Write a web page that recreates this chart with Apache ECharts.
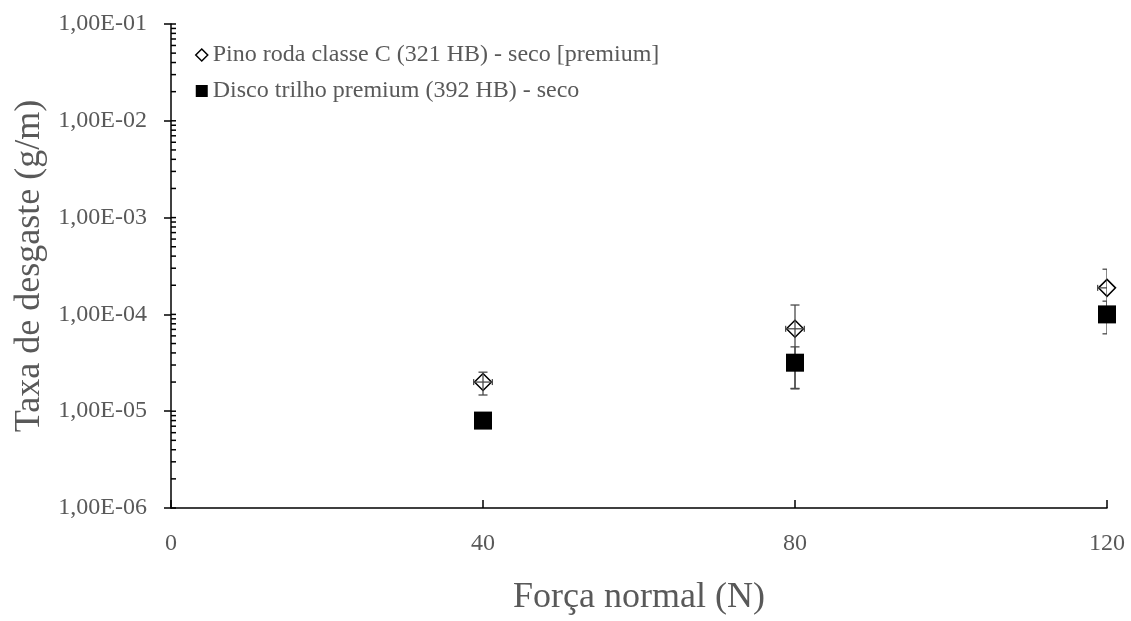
<!DOCTYPE html>
<html>
<head>
<meta charset="utf-8">
<script src="https://cdn.jsdelivr.net/npm/echarts@6/dist/echarts.min.js"></script>
<style>
  html, body { margin: 0; padding: 0; background: #fff; }
  #chart { width: 1131px; height: 621px; }
</style>
</head>
<body>
<div id="chart"></div>
<script>
// Wear rate vs. normal load, pin (wheel steel) and disc (rail steel), dry contact
const forces = [40, 80, 120];
const forceTicks = [0, 40, 80, 120];

const pinoName = 'Pino roda classe C (321 HB) - seco [premium]';
const pinoRate = [2.0e-5, 7.1e-5, 1.88e-4];
const pinoErr = [0.53e-5, 5.4e-5, 1.05e-4];
const pinoForceErr = [1.2, 1.2, 1.2];

const discoName = 'Disco trilho premium (392 HB) - seco';
const discoRate = [8.0e-6, 3.17e-5, 1.0e-4];
const discoErr = [0.5e-6, 1.45e-5, 0.37e-4];
const discoForceErr = [0, 0, 0];

const yTickLabels = ['1,00E-06', '1,00E-05', '1,00E-04', '1,00E-03', '1,00E-02', '1,00E-01'];
const yMinExp = -6;
const yMaxExp = -1;
const minorMultipliers = [1, 2, 3, 4, 5, 6, 7, 8, 9];

const FONT = '"Liberation Serif", "Times New Roman", serif';
const TEXT_GRAY = '#595959';

// points for the inner tick marks of the log axis (decade plus 2..9 subdivisions)
const logTickValues = [];
for (let e = yMinExp; e < yMaxExp; e++) {
  minorMultipliers.forEach(m => logTickValues.push([0, m * Math.pow(10, e)]));
}
logTickValues.push([0, Math.pow(10, yMaxExp)]);

function errorRows(xs, ys, es, xes) {
  return xs.map((x, i) => [x, ys[i], es[i], xes[i]]);
}

function renderErrorBar(params, api) {
  const x = api.value(0), y = api.value(1), e = api.value(2), xe = api.value(3);
  const top = api.coord([x, y + e]);
  const bot = api.coord([x, y - e]);
  const cap = 4.5;
  const style = { stroke: '#4a4a4a', lineWidth: 1.3, fill: null };
  const children = [
    { type: 'line', shape: { x1: top[0], y1: top[1], x2: bot[0], y2: bot[1] }, style },
    { type: 'line', shape: { x1: top[0] - cap, y1: top[1], x2: top[0] + cap, y2: top[1] }, style },
    { type: 'line', shape: { x1: bot[0] - cap, y1: bot[1], x2: bot[0] + cap, y2: bot[1] }, style }
  ];
  if (xe > 0) {
    const l = api.coord([x - xe, y]);
    const r = api.coord([x + xe, y]);
    children.push(
      { type: 'line', shape: { x1: l[0], y1: l[1], x2: r[0], y2: r[1] }, style },
      { type: 'line', shape: { x1: l[0], y1: l[1] - 3, x2: l[0], y2: l[1] + 3 }, style },
      { type: 'line', shape: { x1: r[0], y1: r[1] - 3, x2: r[0], y2: r[1] + 3 }, style }
    );
  }
  return { type: 'group', children };
}

function renderLogTick(params, api) {
  const p = api.coord([api.value(0), api.value(1)]);
  return {
    type: 'line',
    shape: { x1: p[0], y1: p[1], x2: p[0] + 5, y2: p[1] },
    style: { stroke: '#000', lineWidth: 1.5 }
  };
}

const chart = echarts.init(document.getElementById('chart'), null, { renderer: 'canvas' });

chart.setOption({
  backgroundColor: '#fff',
  animation: false,
  grid: { left: 171, width: 936, top: 24, height: 492, containLabel: false },
  legend: {
    orient: 'vertical',
    left: 190,
    top: 38,
    itemGap: 12,
    itemWidth: 12,
    itemHeight: 12,
    textStyle: { fontFamily: FONT, fontSize: 24, color: TEXT_GRAY },
    data: [
      { name: pinoName, icon: 'diamond', itemStyle: { color: '#fff', borderColor: '#000', borderWidth: 1.5 } },
      { name: discoName, icon: 'rect', itemStyle: { color: '#000', borderWidth: 0 } }
    ]
  },
  xAxis: {
    type: 'value',
    min: forceTicks[0],
    max: forceTicks[forceTicks.length - 1],
    interval: 40,
    name: 'Força normal (N)',
    nameLocation: 'middle',
    nameGap: 72,
    nameTextStyle: { fontFamily: FONT, fontSize: 36, color: TEXT_GRAY },
    axisLine: { show: true, onZero: false, lineStyle: { color: '#000', width: 1.5 } },
    axisTick: { show: true, inside: true, length: 8, lineStyle: { color: '#000', width: 1.5 } },
    axisLabel: { margin: 24, fontFamily: FONT, fontSize: 24, color: TEXT_GRAY },
    splitLine: { show: false }
  },
  yAxis: {
    type: 'log',
    logBase: 10,
    min: Math.pow(10, yMinExp),
    max: Math.pow(10, yMaxExp),
    interval: 1,
    name: 'Taxa de desgaste (g/m)',
    nameLocation: 'middle',
    nameGap: 118,
    nameTextStyle: { fontFamily: FONT, fontSize: 36, color: TEXT_GRAY },
    axisLine: { show: true, onZero: false, lineStyle: { color: '#000', width: 1.5 } },
    axisTick: { show: true, inside: false, length: 7, lineStyle: { color: '#000', width: 1.5 } },
    axisLabel: {
      margin: 24,
      fontFamily: FONT,
      fontSize: 24,
      color: TEXT_GRAY,
      formatter: v => yTickLabels[Math.round(Math.log10(v)) - yMinExp] || ''
    },
    splitLine: { show: false }
  },
  series: [
    {
      name: 'logTicks',
      type: 'custom',
      renderItem: renderLogTick,
      data: logTickValues,
      clip: false,
      silent: true,
      z: 1
    },
    {
      name: pinoName,
      type: 'scatter',
      symbol: 'diamond',
      symbolSize: 17,
      itemStyle: { color: '#fff', borderColor: '#000', borderWidth: 1.5, opacity: 1 },
      data: forces.map((x, i) => [x, pinoRate[i]]),
      z: 2
    },
    {
      name: 'pinoErr',
      type: 'custom',
      renderItem: renderErrorBar,
      data: errorRows(forces, pinoRate, pinoErr, pinoForceErr),
      clip: true,
      silent: true,
      z: 3
    },
    {
      name: 'discoErr',
      type: 'custom',
      renderItem: renderErrorBar,
      data: errorRows(forces, discoRate, discoErr, discoForceErr),
      clip: true,
      silent: true,
      z: 3
    },
    {
      name: discoName,
      type: 'scatter',
      symbol: 'rect',
      symbolSize: 18,
      itemStyle: { color: '#000', opacity: 1 },
      data: forces.map((x, i) => [x, discoRate[i]]),
      z: 4
    }
  ]
});
</script>
</body>
</html>
